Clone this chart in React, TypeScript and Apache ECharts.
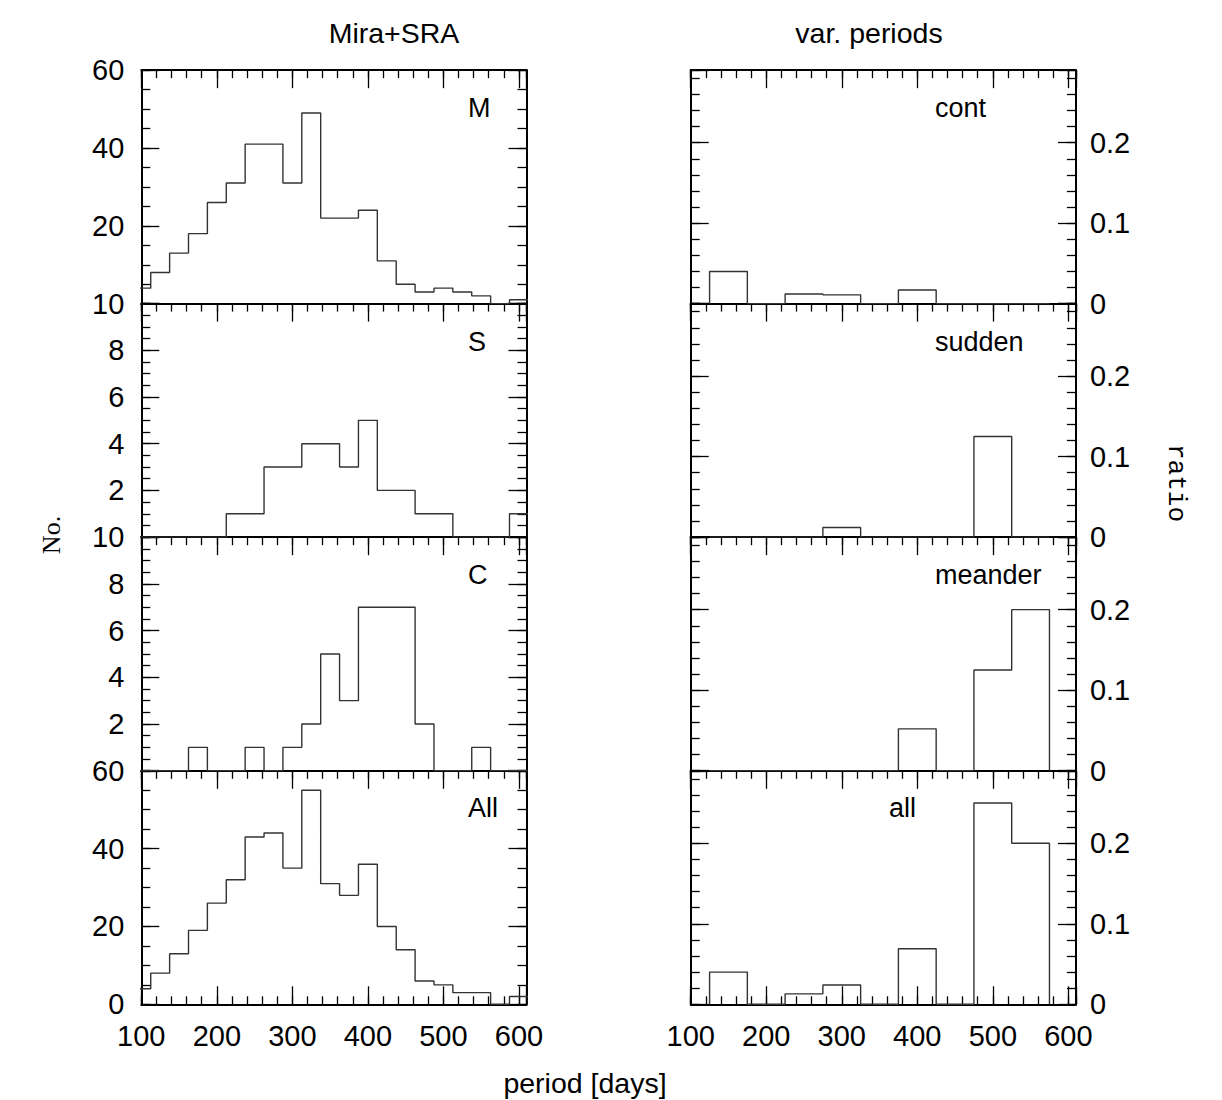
import React, { useEffect, useRef } from "react";
import * as echarts from "echarts";

// ---------------- data ----------------
// left column: counts in 25-day bins, first bin starts at 87.5 days
const leftBinStart = 87.5;
const leftBinWidth = 25;
const countsM = [4, 8, 13, 18, 26, 31, 41, 41, 31, 49, 22, 22, 24, 11, 5, 3, 4, 3, 2, 0, 1];
const countsS = [0, 0, 0, 0, 0, 1, 1, 3, 3, 4, 4, 3, 5, 2, 2, 1, 1, 0, 0, 0, 1];
const countsC = [0, 0, 0, 1, 0, 0, 1, 0, 1, 2, 5, 3, 7, 7, 7, 2, 0, 0, 1, 0, 0];
const countsAll = [4, 8, 13, 19, 26, 32, 43, 44, 35, 55, 31, 28, 36, 20, 14, 6, 5, 3, 3, 0, 2];

// right column: ratio in 50-day bins, first bin starts at 125 days
const rightBinStart = 125;
const rightBinWidth = 50;
const ratioCont = [0.04, 0, 0.012, 0.011, 0, 0.017, 0, 0, 0];
const ratioSudden = [0, 0, 0, 0.012, 0, 0, 0, 0.125, 0];
const ratioMeander = [0, 0, 0, 0, 0, 0.052, 0, 0.125, 0.2];
const ratioAll = [0.04, 0, 0.013, 0.024, 0, 0.069, 0, 0.25, 0.2];

const leftLabels = ["M", "S", "C", "All"];
const rightLabels = ["cont", "sudden", "meander", "all"];
const leftYMax = [60, 10, 10, 60];
const leftYMajor = [20, 2, 2, 20];
const leftYMinor = [5, 0.5, 0.5, 5];
const ratioMax = 0.29;
const ratioMajor = 0.1;
const ratioMinor = 0.02;
const xMin = 100;
const xMax = 610;
const xMajor = 100;
const xMinor = 20;

const columnTitles = ["Mira+SRA", "var. periods"];
const xTitle = "period [days]";
const leftYTitle = "No.";
const rightYTitle = "ratio";

// ---------------- layout ----------------
const SANS = "Liberation Sans, Arial, Helvetica, sans-serif";
const FS_TICK = 29;
const FS_TITLE = 28.5;
const FS_PANEL = 27;
const colLeft = [141.3, 690.7];
const colWidth = 385.2;
const rowTop = [70.2, 303.6, 537.2, 770.8];
const rowHeight = 233.5;

function steps(start: number, w: number, vals: number[]) {
  const pts: number[][] = [[start, 0]];
  vals.forEach((v, i) => {
    pts.push([start + i * w, v]);
    pts.push([start + (i + 1) * w, v]);
  });
  pts.push([start + vals.length * w, 0]);
  return pts;
}

const tickStyle = { color: "#000", width: 1.3 };
const frameStyle = { color: "#000", width: 2 };

function buildOption() {
  const grids: any[] = [];
  const xAxes: any[] = [];
  const yAxes: any[] = [];
  const series: any[] = [];
  const graphics: any[] = [];

  const leftData = [countsM, countsS, countsC, countsAll];
  const rightData = [ratioCont, ratioSudden, ratioMeander, ratioAll];

  for (let col = 0; col < 2; col++) {
    for (let row = 0; row < 4; row++) {
      const g = grids.length;
      grids.push({
        left: colLeft[col],
        top: rowTop[row],
        width: colWidth,
        height: rowHeight,
        containLabel: false,
        outerBoundsMode: "none",
      });
      const bottomRow = row === 3;
      const xBase = {
        type: "value",
        gridIndex: g,
        min: xMin,
        max: xMax,
        splitLine: { show: false },
      };
      const xMainIndex = xAxes.length;
      xAxes.push({
        ...xBase,
        position: "bottom",
        interval: xMajor,
        axisLine: { show: true, onZero: false, lineStyle: frameStyle },
        axisTick: { show: bottomRow, inside: true, length: 18, lineStyle: tickStyle },
        axisLabel: {
          show: bottomRow,
          color: "#000",
          fontFamily: SANS,
          fontSize: FS_TICK,
          margin: 17,
          formatter: (v: number) => (v % 100 === 0 ? String(v) : ""),
        },
      });
      if (bottomRow) {
        xAxes.push({
          ...xBase,
          position: "bottom",
          interval: xMinor,
          axisLine: { show: false, onZero: false },
          axisTick: { show: true, inside: true, length: 8, lineStyle: tickStyle },
          axisLabel: { show: false },
        });
      }
      xAxes.push({
        ...xBase,
        position: "top",
        interval: xMajor,
        axisLine: { show: true, onZero: false, lineStyle: frameStyle },
        axisTick: { show: true, inside: true, length: 18, lineStyle: tickStyle },
        axisLabel: { show: false },
      });
      xAxes.push({
        ...xBase,
        position: "top",
        interval: xMinor,
        axisLine: { show: false, onZero: false },
        axisTick: { show: true, inside: true, length: 8, lineStyle: tickStyle },
        axisLabel: { show: false },
      });

      const yMax = col === 0 ? leftYMax[row] : ratioMax;
      const yMaj = col === 0 ? leftYMajor[row] : ratioMajor;
      const yMin = col === 0 ? leftYMinor[row] : ratioMinor;
      const yBase = {
        type: "value",
        gridIndex: g,
        min: 0,
        max: yMax,
        splitLine: { show: false },
      };
      const leftFmt = (v: number) => (v === 0 && row < 3 ? "" : String(v));
      const rightFmt = (v: number) => {
        const r = Math.round(v * 10) / 10;
        if (Math.abs(v - r) > 1e-9) return "";
        return r === 0 ? "0" : r.toFixed(1);
      };
      const yMainIndex = yAxes.length;
      yAxes.push({
        ...yBase,
        position: "left",
        interval: yMaj,
        axisLine: { show: true, onZero: false, lineStyle: frameStyle },
        axisTick: { show: true, inside: true, length: 18, lineStyle: tickStyle },
        axisLabel: {
          show: col === 0,
          color: "#000",
          fontFamily: SANS,
          fontSize: FS_TICK,
          margin: 17,
          formatter: leftFmt,
        },
      });
      yAxes.push({
        ...yBase,
        position: "left",
        interval: yMin,
        axisLine: { show: false, onZero: false },
        axisTick: { show: true, inside: true, length: 9, lineStyle: tickStyle },
        axisLabel: { show: false },
      });
      yAxes.push({
        ...yBase,
        position: "right",
        interval: yMaj,
        axisLine: { show: true, onZero: false, lineStyle: frameStyle },
        axisTick: { show: true, inside: true, length: 18, lineStyle: tickStyle },
        axisLabel: {
          show: col === 1,
          color: "#000",
          fontFamily: SANS,
          fontSize: FS_TICK,
          margin: 14,
          formatter: rightFmt,
        },
      });
      yAxes.push({
        ...yBase,
        position: "right",
        interval: yMin,
        axisLine: { show: false, onZero: false },
        axisTick: { show: true, inside: true, length: 9, lineStyle: tickStyle },
        axisLabel: { show: false },
      });

      const data =
        col === 0
          ? steps(leftBinStart, leftBinWidth, leftData[row])
          : steps(rightBinStart, rightBinWidth, rightData[row]);
      series.push({
        type: "line",
        xAxisIndex: xMainIndex,
        yAxisIndex: yMainIndex,
        data,
        symbol: "none",
        clip: true,
        silent: true,
        lineStyle: { color: "#333", width: 1.4 },
      });
    }
  }

  const txt = (text: string, x: number, y: number, align: string, size: number, extra: any = {}) => ({
    type: "text",
    x,
    y,
    silent: true,
    ...extra,
    style: {
      text,
      fill: "#000",
      fontFamily: SANS,
      fontSize: size,
      align,
      verticalAlign: "middle",
      textAlign: align,
      textVerticalAlign: "middle",
      ...(extra.style || {}),
    },
  });

  graphics.push(txt(columnTitles[0], 394, 33, "center", FS_TITLE));
  graphics.push(txt(columnTitles[1], 869, 33, "center", FS_TITLE));
  graphics.push(txt(xTitle, 585, 1083, "center", FS_TITLE));
  graphics.push(
    txt(leftYTitle, 51, 535, "center", 26, {
      rotation: Math.PI / 2,
      style: { fontFamily: "Liberation Serif, Times New Roman, serif", fontSize: 26 },
    })
  );
  graphics.push(
    txt(rightYTitle, 1176, 483, "center", 26, {
      rotation: -Math.PI / 2,
      style: { fontFamily: "Liberation Mono, Courier New, monospace", fontSize: 26 },
    })
  );
  const labelY = [108, 342, 575, 808];
  leftLabels.forEach((l, i) => graphics.push(txt(l, 468, labelY[i], "left", FS_PANEL)));
  rightLabels.forEach((l, i) =>
    graphics.push(txt(l, i === 3 ? 889 : 935, labelY[i], "left", FS_PANEL))
  );

  return {
    animation: false,
    backgroundColor: "#fff",
    grid: grids,
    xAxis: xAxes,
    yAxis: yAxes,
    series,
    graphic: graphics,
  };
}

export default function App() {
  const ref = useRef<HTMLDivElement>(null);
  useEffect(() => {
    document.body.style.margin = "0";
    if (!ref.current) return;
    const chart = echarts.init(ref.current, undefined, { renderer: "svg" });
    chart.setOption(buildOption() as any);
    return () => chart.dispose();
  }, []);
  return <div ref={ref} style={{ width: 1222, height: 1100 }} />;
}
